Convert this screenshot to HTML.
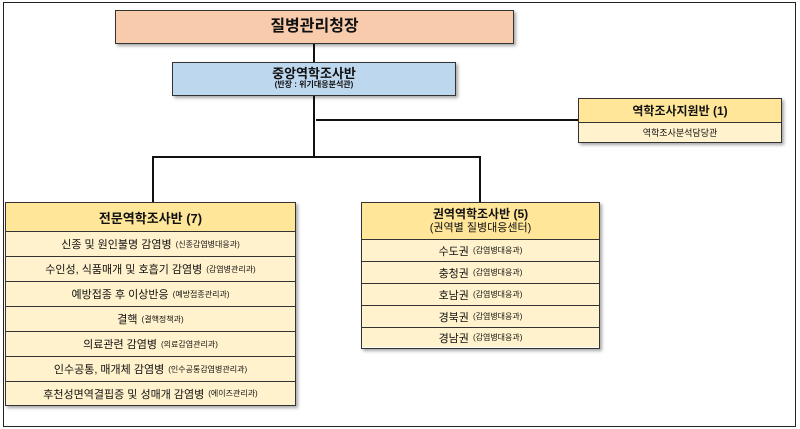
<!DOCTYPE html>
<html><head><meta charset="utf-8"><style>
body{margin:0;width:800px;height:429px;background:#fff;position:relative;overflow:hidden;font-family:"Liberation Sans","Noto Sans CJK KR",sans-serif;color:#111}
.b{position:absolute;box-sizing:border-box;border:1.5px solid #333;box-shadow:2px 2px 3px rgba(0,0,0,.35);text-align:center}
.l{position:absolute;background:#111}
.row{box-sizing:border-box;border-top:1.5px solid #333;background:#fff2cc;font-size:11px;display:flex;align-items:center;justify-content:center}
.row small{font-size:8px;margin-left:4px}
.hd{background:#ffe699;font-weight:bold;display:flex;flex-direction:column;align-items:center;justify-content:center}
</style></head><body>
<div style="position:absolute;left:3px;top:2px;width:791px;height:423px;border:1.5px solid #222"></div>
<div class="b" style="left:115px;top:10px;width:399px;height:34px;background:#f8cbad;font-weight:bold;font-size:16px;line-height:32px">질병관리청장</div>
<div class="l" style="left:313px;top:44px;width:2px;height:18px"></div>
<div class="b" style="left:172px;top:62px;width:284px;height:34px;background:#bdd7ee;line-height:1.1"><div style="font-weight:bold;font-size:13px;margin-top:4px">중앙역학조사반</div><div style="font-size:8px;font-weight:bold">(반장 : 위기대응분석관)</div></div>
<div class="l" style="left:313px;top:96px;width:2px;height:62px"></div>
<div class="l" style="left:316px;top:119px;width:263px;height:2px"></div>
<div class="b" style="left:578px;top:98px;width:204px;height:45px;background:#fff2cc">
<div class="hd" style="height:23px;font-size:12px">역학조사지원반 (1)</div>
<div class="row" style="height:20px;font-size:9px">역학조사분석담당관</div></div>
<div class="l" style="left:152px;top:156px;width:329px;height:2px"></div>
<div class="l" style="left:152px;top:156px;width:2px;height:47px"></div>
<div class="l" style="left:479px;top:156px;width:2px;height:47px"></div>
<div class="b" style="left:5px;top:202px;width:291px;height:204px">
<div class="hd" style="height:28px;font-size:13px">전문역학조사반 (7)</div>
<div class="row" style="height:25px">신종 및 원인불명 감염병<small>(신종감염병대응과)</small></div>
<div class="row" style="height:25px">수인성, 식품매개 및 호흡기 감염병<small>(감염병관리과)</small></div>
<div class="row" style="height:25px">예방접종 후 이상반응<small>(예방접종관리과)</small></div>
<div class="row" style="height:25px">결핵<small>(결핵정책과)</small></div>
<div class="row" style="height:25px">의료관련 감염병<small>(의료감염관리과)</small></div>
<div class="row" style="height:25px">인수공통, 매개체 감염병<small>(인수공통감염병관리과)</small></div>
<div class="row" style="height:24px">후천성면역결핍증 및 성매개 감염병<small>(에이즈관리과)</small></div>
</div>
<div class="b" style="left:361px;top:202px;width:239px;height:147px">
<div class="hd" style="height:36px;font-size:12px;line-height:1.1">권역역학조사반 (5)<span style="font-weight:normal;font-size:11px">(권역별 질병대응센터)</span></div>
<div class="row" style="height:22px">수도권<small>(감염병대응과)</small></div>
<div class="row" style="height:22px">충청권<small>(감염병대응과)</small></div>
<div class="row" style="height:22px">호남권<small>(감염병대응과)</small></div>
<div class="row" style="height:22px">경북권<small>(감염병대응과)</small></div>
<div class="row" style="height:20px">경남권<small>(감염병대응과)</small></div>
</div>
</body></html>
